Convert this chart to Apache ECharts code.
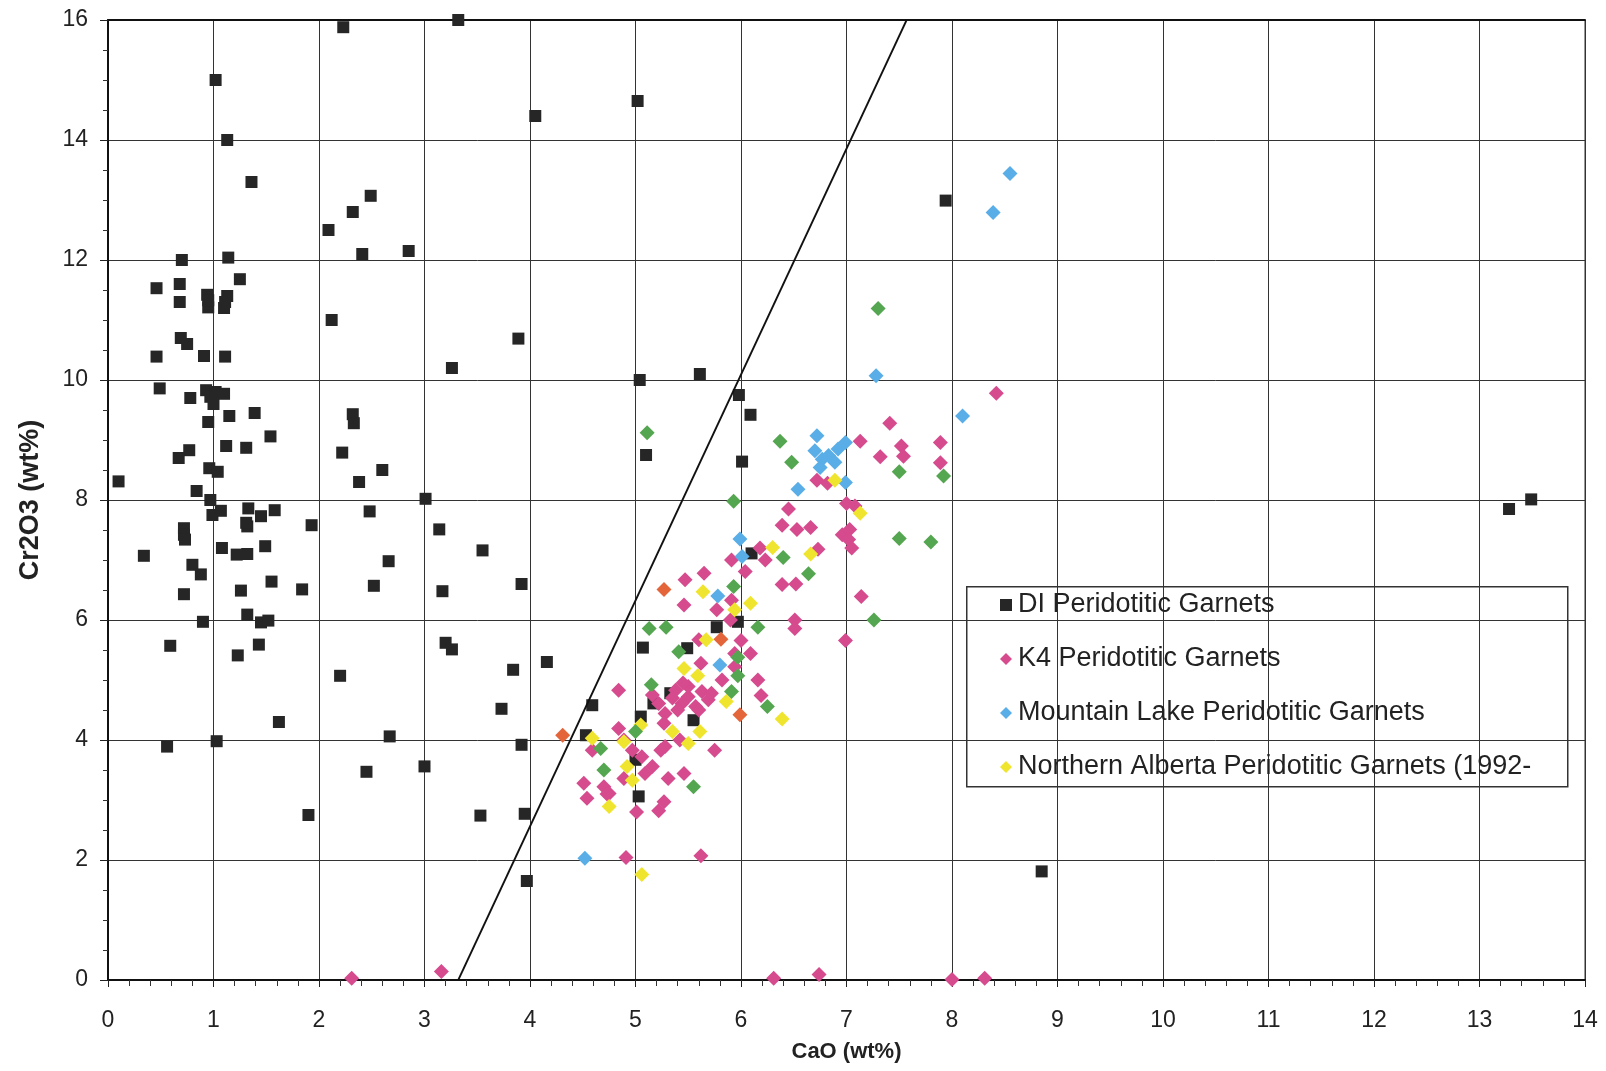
<!DOCTYPE html>
<html>
<head>
<meta charset="utf-8">
<script src="https://cdn.jsdelivr.net/npm/echarts@6/dist/echarts.min.js"></script>
<style>
html,body{margin:0;padding:0;background:#fff;}
#chart{width:1606px;height:1071px;}
</style>
</head>
<body>
<div id="chart"></div>
<script>
// Axis ranges / tick labels
const xTicks = [0,1,2,3,4,5,6,7,8,9,10,11,12,13,14];
const yTicks = [0,2,4,6,8,10,12,14,16];

// Series names
const nameDI = "DI Peridotitic Garnets";
const nameK4 = "K4 Peridotitic Garnets";
const nameML = "Mountain Lake Peridotitic Garnets";
const nameNA = "Northern Alberta Peridotitic Garnets (1992-";
const nameS5 = "Series5";
const nameS6 = "Series6";

// [CaO, Cr2O3]
const diData = [
 [2.23,15.88],[3.32,16.0],[1.02,15.0],[4.05,14.4],[1.13,14.0],[1.36,13.3],[2.49,13.07],[2.32,12.8],[2.09,12.5],
 [2.41,12.1],[2.85,12.15],[0.70,12.0],[1.14,12.04],[1.25,11.68],[0.46,11.53],[0.68,11.6],[0.68,11.3],[0.94,11.42],
 [0.95,11.21],[0.95,11.33],[1.10,11.2],[1.13,11.4],[1.11,11.3],[2.12,11.0],[3.89,10.69],[0.69,10.7],[0.75,10.6],
 [0.46,10.39],[0.91,10.4],[1.11,10.39],[3.26,10.2],[0.49,9.86],[0.78,9.7],[0.93,9.83],[0.97,9.72],[1.0,9.6],
 [1.02,9.8],[1.10,9.77],[0.95,9.3],[1.15,9.4],[1.39,9.45],[1.54,9.06],[1.12,8.9],[1.31,8.87],[0.77,8.83],
 [0.67,8.7],[0.96,8.53],[1.04,8.47],[0.10,8.31],[0.84,8.15],[0.97,8.0],[2.32,9.43],[2.33,9.28],[2.22,8.79],
 [2.6,8.5],[2.38,8.3],[3.01,8.02],
 [0.99,7.75],[1.07,7.82],[1.33,7.86],[1.32,7.56],[1.31,7.62],[1.45,7.73],[1.58,7.83],[1.93,7.58],[2.48,7.81],
 [3.14,7.51],[3.55,7.16],[2.66,6.98],[0.34,7.07],[0.72,7.53],[0.72,7.42],[0.73,7.34],[1.08,7.2],[1.22,7.09],
 [1.32,7.1],[1.49,7.23],[0.80,6.92],[0.88,6.76],[0.72,6.43],[1.26,6.49],[1.55,6.64],[1.84,6.51],[2.52,6.57],
 [3.17,6.48],[3.92,6.6],[0.9,5.97],[1.32,6.09],[1.45,5.96],[1.52,5.99],[0.59,5.57],[1.23,5.41],[1.43,5.59],
 [3.2,5.62],[3.26,5.51],[2.2,5.07],[3.84,5.17],[4.16,5.3],[3.73,4.52],[1.62,4.3],[0.56,3.89],[1.03,3.98],
 [2.67,4.06],[3.92,3.92],[2.45,3.47],[3.0,3.56],[1.9,2.75],[3.53,2.74],[3.95,2.77],[3.97,1.65],
 [5.02,14.65],[7.94,12.99],[5.04,10.0],[5.61,10.1],[5.98,9.75],[6.09,9.42],[5.1,8.75],[6.01,8.64],
 [6.1,7.11],[5.97,5.97],[5.77,5.88],[5.07,5.54],[5.49,5.53],[5.33,4.78],[5.17,4.61],[5.55,4.33],[4.59,4.58],
 [5.05,4.39],[4.53,4.08],[5.0,3.67],[5.03,3.06],[8.85,1.81],[13.28,7.85],[13.49,8.01]
];

const k4Data = [
 [2.31,0.03],[3.16,0.14],[6.31,0.03],[6.74,0.09],[8.0,0.01],[8.31,0.03],[4.91,2.04],[5.62,2.07],
 [7.41,9.28],[7.13,8.98],[7.52,8.9],[7.54,8.73],[7.32,8.72],[7.89,8.96],[7.89,8.62],[6.72,8.33],[6.82,8.28],
 [6.45,7.85],[7.0,7.94],[7.08,7.9],[8.42,9.78],
 [6.39,7.58],[6.53,7.51],[6.66,7.54],[6.96,7.42],[7.03,7.51],[7.02,7.34],[7.05,7.2],[6.18,7.2],[6.23,7.0],
 [6.73,7.18],[5.91,7.0],[6.04,6.81],[6.39,6.59],[6.52,6.6],[7.14,6.39],[6.51,6.0],[6.51,5.86],[6.99,5.66],
 [6.0,5.66],[6.09,5.44],[6.16,5.0],[6.19,4.74],
 [5.47,6.67],[5.65,6.78],[5.91,6.33],[5.46,6.25],[5.77,6.17],[5.9,6.0],[5.6,5.67],[5.94,5.44],[5.62,5.28],
 [5.94,5.22],[5.82,5.0],[4.84,4.83],[5.5,4.72],[5.38,4.83],[5.44,4.61],[5.57,4.56],[5.63,4.81],[5.69,4.67],
 [5.28,4.44],[5.16,4.75],[5.22,4.61],[5.72,4.78],[5.5,4.89],[5.45,4.95],[5.35,4.7],[5.6,4.5],[5.4,4.5],
 [4.84,4.19],[5.27,4.28],[4.59,3.83],[4.89,4.0],[5.28,3.89],[5.24,3.83],[5.42,4.0],[5.75,3.83],[4.97,3.83],
 [5.06,3.72],[5.16,3.56],[5.09,3.44],[4.89,3.36],[5.31,3.36],[5.46,3.44],[4.51,3.28],[4.54,3.03],[4.7,3.22],
 [4.75,3.11],[4.73,3.1],[5.01,2.8],[5.22,2.82],[5.27,2.97]
];

const mlData = [
 [8.39,12.79],[8.55,13.44],[7.28,10.07],[8.1,9.4],[6.72,9.07],[6.99,8.96],[6.92,8.85],[6.7,8.82],[6.77,8.68],
 [6.83,8.74],[6.89,8.63],[6.75,8.54],[6.99,8.29],[6.54,8.18],[5.99,7.35],[6.01,7.06],[5.78,6.4],[5.8,5.25],
 [4.52,2.03]
];

const naData = [
 [6.89,8.33],[7.13,7.78],[6.3,7.21],[6.66,7.1],[5.64,6.47],[5.94,6.17],[6.09,6.28],[5.67,5.67],[5.46,5.19],
 [5.59,5.07],[5.86,4.64],[6.39,4.35],[5.05,4.25],[5.35,4.14],[5.61,4.14],[5.5,3.94],[4.59,4.03],[4.89,3.97],
 [4.92,3.56],[4.97,3.33],[4.75,2.89],[5.06,1.76]
];

const s5Data = [
 [7.3,11.19],[5.11,9.12],[6.37,8.98],[6.48,8.63],[7.5,8.47],[7.92,8.4],[5.93,7.98],[6.4,7.04],[6.64,6.77],
 [7.5,7.36],[7.8,7.3],[7.26,6.0],[5.93,6.56],[6.16,5.88],[5.13,5.86],[5.29,5.88],[5.41,5.47],[5.97,5.38],
 [5.97,5.07],[5.91,4.81],[6.25,4.56],[5.15,4.92],[5.0,4.14],[4.67,3.86],[4.7,3.5],[5.55,3.22]
];

const s6Data = [
 [4.31,4.08],[5.27,6.51],[5.81,5.68],[5.99,4.42]
];

// Discrimination line endpoints
const lineData = [[3.32,0],[7.57,16]];

const FONT = 'Arial, "Liberation Sans", sans-serif';
const chart = echarts.init(document.getElementById('chart'), null, {renderer:'canvas'});

function scatter(name, data, symbol, size, color){
  return {
    name: name, type: 'scatter', data: data, symbol: symbol, symbolSize: size,
    itemStyle: {color: color, opacity: 1}, silent: true, animation: false
  };
}

const option = {
  backgroundColor: '#ffffff',
  animation: false,
  grid: {left:108, right:21, top:20, bottom:91, show:true, borderColor:'#333', borderWidth:1, containLabel:false},
  xAxis: [{
    type:'value', min:0, max:14, interval:1,
    name:'CaO (wt%)', nameLocation:'middle', nameGap:61,
    nameTextStyle:{fontFamily:FONT, fontSize:22, fontWeight:'bold', color:'#222'},
    axisLine:{show:true, onZero:false, lineStyle:{color:'#111', width:2}},
    axisTick:{show:true, length:7, lineStyle:{color:'#222', width:1}},
    minorTick:{show:true, splitNumber:5, length:6, lineStyle:{color:'#333', width:1}},
    axisLabel:{fontFamily:FONT, fontSize:23, color:'#222', margin:29},
    splitLine:{show:true, lineStyle:{color:'#333', width:1}}
  },{
    type:'value', min:0, max:14, position:'top',
    axisLine:{show:true, onZero:false, lineStyle:{color:'#111', width:2}},
    axisTick:{show:false}, axisLabel:{show:false}, splitLine:{show:false}
  }],
  yAxis: {
    type:'value', min:0, max:16, interval:2,
    name:'Cr2O3 (wt%)', nameLocation:'middle', nameGap:64, nameRotate:90,
    nameTextStyle:{fontFamily:FONT, fontSize:27, fontWeight:'bold', color:'#222'},
    axisLine:{show:true, onZero:false, lineStyle:{color:'#111', width:2}},
    axisTick:{show:true, length:8, lineStyle:{color:'#222', width:1}},
    minorTick:{show:true, splitNumber:4, length:5, lineStyle:{color:'#333', width:1}},
    axisLabel:{fontFamily:FONT, fontSize:23, color:'#222', margin:20},
    splitLine:{show:true, lineStyle:{color:'#333', width:1}}
  },
  legend: {
    show:true, orient:'vertical', left:1000, top:591,
    data:[nameDI, nameK4, nameML, nameNA],
    itemWidth:12, itemHeight:12, itemGap:26, padding:0,
    textStyle:{fontFamily:FONT, fontSize:27, color:'#222', lineHeight:28, padding:[0,0,0,1]},
    selectedMode:false
  },
  graphic: [{
    type:'rect', left:966, top:586, z:0, zlevel:0,
    shape:{width:601, height:200},
    style:{fill:'#fff', stroke:'#333', lineWidth:1.5}
  }],
  series: [
    scatter(nameDI, diData, 'rect', 12, '#262626'),
    scatter(nameK4, k4Data, 'diamond', 15, '#d64a8e'),
    scatter(nameML, mlData, 'diamond', 15, '#5aaee8'),
    scatter(nameNA, naData, 'diamond', 15, '#f0e52e'),
    scatter(nameS5, s5Data, 'diamond', 15, '#55a650'),
    scatter(nameS6, s6Data, 'diamond', 15, '#e5653a'),
    {
      name:'line', type:'line', data:lineData, showSymbol:false, symbol:'none',
      lineStyle:{color:'#111', width:1.8}, silent:true, animation:false, z:3
    }
  ]
};
chart.setOption(option);
</script>
</body>
</html>
